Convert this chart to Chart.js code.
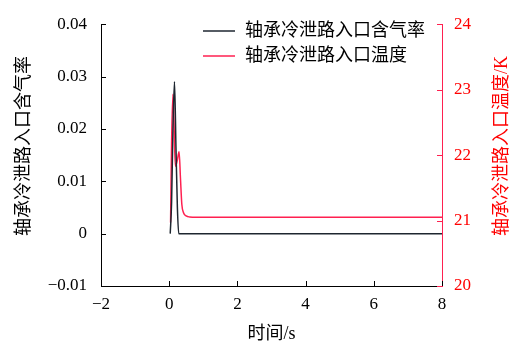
<!DOCTYPE html>
<html lang="zh">
<head>
<meta charset="UTF-8">
<title>轴承冷泄路入口</title>
<script src="https://cdn.jsdelivr.net/npm/chart.js"></script>
<style>
    body { margin: 0; background: #fff; }
    #wrap { width: 519px; height: 349px; }
</style>
</head>
<body>
<div id="wrap"><canvas id="chart" width="519" height="349"></canvas></div>
<script>
    // 数据
    const gasTime = [0.03, 0.07, 0.11, 0.155, 0.2, 0.24, 0.28, 0.5, 2, 4, 6, 8];
    const gasRate = [0, 0.006, 0.02, 0.029, 0.016, 0.005, 0, 0, 0, 0, 0, 0];
    const tempTime = [0.04, 0.07, 0.11, 0.14, 0.18, 0.23, 0.29, 0.33, 0.37, 0.42, 0.5, 0.6, 0.8, 1.2, 2, 4, 6, 8];
    const tempVal = [20.97, 22.2, 22.93, 22.5, 21.83, 21.9, 22.05, 21.65, 21.25, 21.12, 21.07, 21.055, 21.05, 21.05, 21.05, 21.05, 21.05, 21.05];
    const xTicks = [-2, 0, 2, 4, 6, 8];
    const yTicks = [-0.01, 0, 0.01, 0.02, 0.03, 0.04];
    const y1Ticks = [20, 21, 22, 23, 24];
    const labels = ['轴承冷泄路入口含气率', '轴承冷泄路入口温度'];
    const yTitle = '轴承冷泄路入口含气率';
    const y1Title = '轴承冷泄路入口温度/K';

    const black = '#1e2630';
    const red = '#ff2050';
    const numFont = { family: '"Liberation Serif", "Noto Sans CJK SC"', size: 17 };
    const cjkFont = { family: '"Liberation Serif", "Noto Sans CJK SC"', size: 18 };
    const cjkCss = '18px "Liberation Serif", "Noto Sans CJK SC"';

    // 向内刻度 + 图例 + 纵轴标题
    const inTicks = {
        id: 'inTicks',
        afterDraw(chart) {
            const ctx = chart.ctx;
            const a = chart.chartArea;
            const s = chart.scales;
            ctx.save();
            ctx.lineWidth = 1;
            ctx.strokeStyle = '#000';
            xTicks.forEach(v => {
                const px = Math.round(s.x.getPixelForValue(v)) + 0.5;
                ctx.beginPath(); ctx.moveTo(px, a.bottom); ctx.lineTo(px, a.bottom - 5); ctx.stroke();
            });
            yTicks.forEach(v => {
                const py = Math.round(s.y.getPixelForValue(v)) + 0.5;
                ctx.beginPath(); ctx.moveTo(a.left, py); ctx.lineTo(a.left + 5, py); ctx.stroke();
            });
            ctx.strokeStyle = red;
            y1Ticks.forEach(v => {
                const py = Math.round(s.y1.getPixelForValue(v)) + 0.5;
                ctx.beginPath(); ctx.moveTo(a.right, py); ctx.lineTo(a.right - 5, py); ctx.stroke();
            });
            // legend
            ctx.font = cjkCss;
            ctx.textBaseline = 'middle';
            chart.data.datasets.forEach((ds, i) => {
                const y = 31 + i * 25;
                ctx.strokeStyle = ds.borderColor;
                ctx.lineWidth = 1.5;
                ctx.beginPath(); ctx.moveTo(203, y); ctx.lineTo(235, y); ctx.stroke();
                ctx.fillStyle = '#000';
                ctx.fillText(ds.label, 245, y);
            });
            // axis titles, both read bottom-to-top
            const cy = 146;
            ctx.textAlign = 'center';
            ctx.save();
            ctx.translate(24, cy);
            ctx.rotate(-Math.PI / 2);
            ctx.fillStyle = '#000';
            ctx.fillText(yTitle, 0, 0);
            ctx.restore();
            ctx.save();
            ctx.translate(502, cy);
            ctx.rotate(-Math.PI / 2);
            ctx.fillStyle = '#ff0000';
            ctx.fillText(y1Title, 0, 0);
            ctx.restore();
            ctx.restore();
        }
    };

    new Chart(document.getElementById('chart'), {
        type: 'line',
        data: {
            datasets: [
                {
                    label: labels[0],
                    data: gasTime.map((t, i) => ({ x: t, y: gasRate[i] })),
                    borderColor: black,
                    borderWidth: 1.5,
                    pointRadius: 0,
                    cubicInterpolationMode: 'monotone',
                    yAxisID: 'y'
                },
                {
                    label: labels[1],
                    data: tempTime.map((t, i) => ({ x: t, y: tempVal[i] })),
                    borderColor: red,
                    borderWidth: 1.5,
                    pointRadius: 0,
                    cubicInterpolationMode: 'monotone',
                    yAxisID: 'y1'
                }
            ]
        },
        options: {
            responsive: false,
            animation: false,
            layout: { padding: { top: 16 } },
            plugins: { legend: { display: false }, tooltip: { enabled: false } },
            scales: {
                x: {
                    type: 'linear',
                    min: -2, max: 8,
                    afterBuildTicks: sc => { sc.ticks = xTicks.map(v => ({ value: v })); },
                    afterFit: sc => { sc.height = 63; },
                    grid: { display: false, drawTicks: false },
                    border: { display: true, color: '#000', width: 1 },
                    ticks: {
                        color: '#000', font: numFont, padding: 8,
                        callback: v => v < 0 ? '\u2212' + Math.abs(v) : String(v)
                    },
                    title: { display: true, text: '时间/s', color: '#000', font: cjkFont, padding: { top: 11 } }
                },
                y: {
                    position: 'left',
                    min: -0.01, max: 0.04,
                    afterBuildTicks: sc => { sc.ticks = yTicks.map(v => ({ value: v })); },
                    afterFit: sc => { sc.width = 101; },
                    grid: { display: false, drawTicks: false },
                    border: { display: true, color: '#000', width: 1 },
                    ticks: {
                        color: '#000', font: numFont, padding: 14,
                        callback: v => v < 0 ? '\u2212' + Math.abs(v).toFixed(2) : (v === 0 ? '0' : v.toFixed(2))
                    }
                },
                y1: {
                    position: 'right',
                    min: 20, max: 24,
                    afterBuildTicks: sc => { sc.ticks = y1Ticks.map(v => ({ value: v })); },
                    afterFit: sc => { sc.width = 77; },
                    grid: { display: false, drawTicks: false },
                    border: { display: true, color: red, width: 1 },
                    ticks: { color: '#ff0000', font: numFont, padding: 12 }
                }
            }
        },
        plugins: [inTicks]
    });
</script>
</body>
</html>
